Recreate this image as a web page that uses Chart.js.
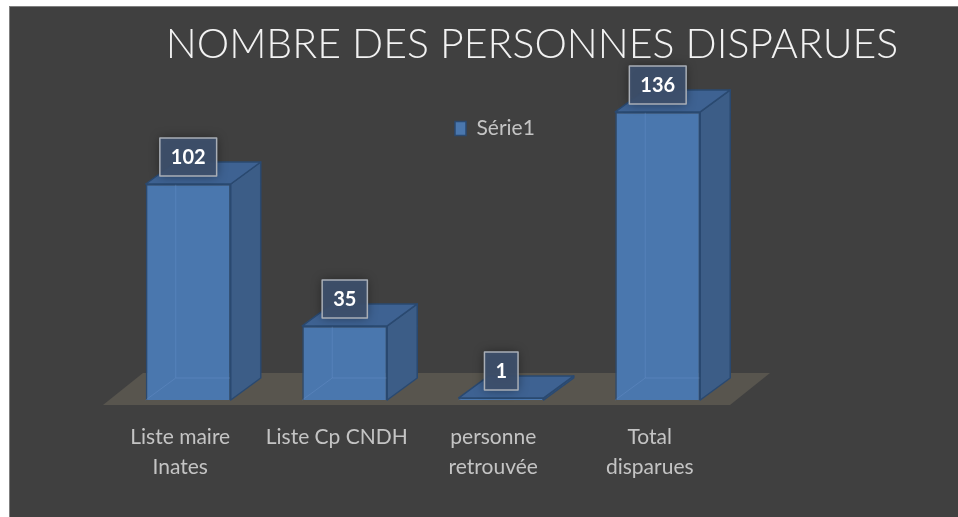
<!DOCTYPE html>
<html>
<head>
<meta charset="utf-8">
<script src="https://cdn.jsdelivr.net/npm/chart.js@4.4.0/dist/chart.umd.min.js"></script>
<style>
    html, body { margin: 0; padding: 0; background: #fff; }
    #wrap {
        position: absolute; left: 9px; top: 6px;
        width: 948px; height: 510px;
        background: #404040;
        border-left: 1px solid #7f7f7f; border-top: 1px solid #7f7f7f;
    }
    canvas { display: block; }
</style>
</head>
<body>
<div id="wrap"><canvas id="chart" width="948" height="510"></canvas></div>
<script>
// données
const categories = [['Liste maire', 'Inates'], 'Liste Cp CNDH', ['personne', 'retrouvée'], ['Total', 'disparues']];
const values = [102, 35, 1, 136];
const seriesName = 'Série1';
const chartTitle = 'NOMBRE DES PERSONNES DISPARUES';

// profondeur 3D
const DX = 30, DY = -22;
const FONT = 'Lato';

// sol + faces latérales/supérieures + étiquettes
const bar3d = {
    id: 'bar3d',
    beforeDraw(chart) {
        // déplacer titre et légende comme dans Excel
        const t = chart.boxes.find(b => b !== chart.legend && b.options && b.options.text === chartTitle);
        if (t) { t.left = 48; t.right = chart.width + 48; }
        const lg = chart.legend;
        if (lg) {
            const w = lg.width, h = lg.height;
            lg.left = 435; lg.top = 101;
            lg.right = lg.left + w; lg.bottom = lg.top + h;
        }
    },
    beforeDatasetsDraw(chart) {
        const ctx = chart.ctx;
        const a = chart.chartArea;
        const y0 = chart.scales.y.getPixelForValue(0) + 5;
        ctx.save();
        ctx.fillStyle = '#58554e';
        ctx.beginPath();
        ctx.moveTo(a.left - 7, y0);
        ctx.lineTo(a.right - 6, y0);
        ctx.lineTo(a.right + 34, y0 - 32);
        ctx.lineTo(a.left + 33, y0 - 32);
        ctx.closePath();
        ctx.fill();
        ctx.restore();
    },
    afterDatasetsDraw(chart) {
        const ctx = chart.ctx;
        const meta = chart.getDatasetMeta(0);
        ctx.save();
        meta.data.forEach((bar, i) => {
            const p = bar.getProps(['x', 'y', 'base', 'width'], true);
            const l = p.x - p.width / 2, r = p.x + p.width / 2;
            const top = Math.min(p.y, p.base - 2), base = p.base;

            // arêtes cachées (barres semi-transparentes)
            ctx.strokeStyle = 'rgba(110,150,205,0.35)';
            ctx.lineWidth = 1;
            ctx.beginPath();
            ctx.moveTo(l, base); ctx.lineTo(l + DX, base + DY);
            ctx.lineTo(l + DX, top + DY);
            ctx.moveTo(l + DX, base + DY); ctx.lineTo(r + DX, base + DY);
            ctx.stroke();

            ctx.strokeStyle = '#2a4970';
            ctx.lineWidth = 1.5;
            ctx.lineJoin = 'round';
            // face droite
            ctx.fillStyle = '#3c5d87';
            ctx.beginPath();
            ctx.moveTo(r, top); ctx.lineTo(r + DX, top + DY);
            ctx.lineTo(r + DX, base + DY); ctx.lineTo(r, base);
            ctx.closePath(); ctx.fill(); ctx.stroke();
            // face du dessus
            ctx.fillStyle = '#3e6292';
            ctx.beginPath();
            ctx.moveTo(l, top); ctx.lineTo(l + DX, top + DY);
            ctx.lineTo(r + DX, top + DY); ctx.lineTo(r, top);
            ctx.closePath(); ctx.fill(); ctx.stroke();
        });

        // étiquettes de valeur
        ctx.font = 'bold 20px ' + FONT;
        ctx.textAlign = 'center';
        ctx.textBaseline = 'middle';
        meta.data.forEach((bar, i) => {
            const p = bar.getProps(['x', 'y'], true);
            const txt = String(values[i]);
            const bw = ctx.measureText(txt).width + 22, bh = 38;
            const cx = p.x, cy = p.y - 27;
            ctx.shadowColor = 'rgba(0,0,0,0.45)';
            ctx.shadowBlur = 10;
            ctx.fillStyle = 'rgba(62,80,108,0.92)';
            ctx.fillRect(cx - bw / 2, cy - bh / 2, bw, bh);
            ctx.shadowBlur = 0;
            ctx.strokeStyle = '#a9aeb6';
            ctx.lineWidth = 1.5;
            ctx.strokeRect(cx - bw / 2, cy - bh / 2, bw, bh);
            ctx.fillStyle = '#ffffff';
            ctx.fillText(txt, cx, cy + 1);
        });
        ctx.restore();
    }
};

new Chart(document.getElementById('chart'), {
    type: 'bar',
    data: {
        labels: categories,
        datasets: [{
            label: seriesName,
            data: values,
            backgroundColor: '#4a77ae',
            borderColor: '#2a4970',
            borderWidth: 1.5,
            barPercentage: 0.543,
            categoryPercentage: 1
        }]
    },
    options: {
        responsive: false,
        animation: false,
        events: [],
        layout: { padding: { left: 100, right: 222, top: 0, bottom: 7 } },
        scales: {
            x: {
                grid: { display: false, drawTicks: false },
                border: { display: false },
                ticks: {
                    color: '#c4c4c4',
                    font: { family: FONT, size: 21, lineHeight: 1.43 },
                    padding: 22,
                    labelOffset: -8,
                    maxRotation: 0,
                    autoSkip: false
                },
                afterFit(s) { s.height = 110; }
            },
            y: {
                display: false,
                min: 0,
                max: 156.2
            }
        },
        plugins: {
            title: {
                display: true,
                text: chartTitle,
                color: '#f2f2f2',
                font: { family: FONT, size: 41, weight: '300', lineHeight: 1.2 },
                padding: { top: 13, bottom: 0 }
            },
            legend: {
                position: 'chartArea',
                align: 'start',
                labels: {
                    color: '#c4c4c4',
                    font: { family: FONT, size: 21 },
                    boxWidth: 11,
                    boxHeight: 14
                }
            },
            tooltip: { enabled: false }
        }
    },
    plugins: [bar3d]
});
</script>
</body>
</html>
